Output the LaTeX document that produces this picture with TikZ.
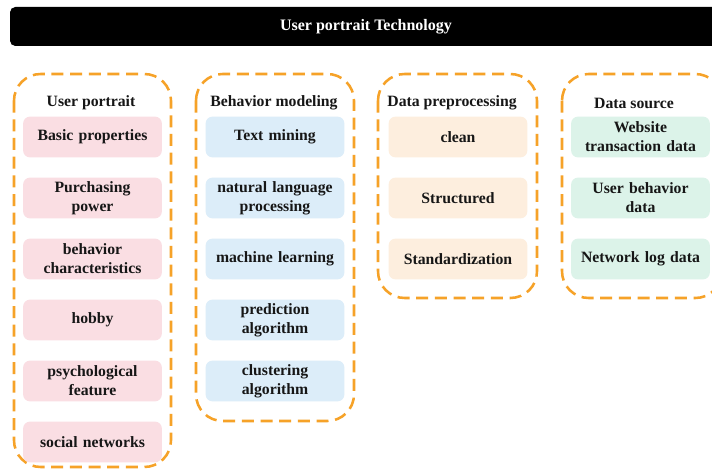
\documentclass[tikz,border=0pt]{standalone}
\usepackage{fontspec}
\setmainfont{Liberation Serif}
\usetikzlibrary{positioning}

\definecolor{dashorange}{RGB}{246,162,40}
\definecolor{pinkfill}{RGB}{250,222,227}
\definecolor{bluefill}{RGB}{220,237,249}
\definecolor{peachfill}{RGB}{253,238,222}
\definecolor{mintfill}{RGB}{220,243,233}
\definecolor{inkdark}{RGB}{22,22,22}

\tikzset{
  groupbox/.style={draw=dashorange, line width=1.9pt, dash pattern=on 9pt off 5pt, rounded corners=20pt},
  itembox/.style={rounded corners=5pt, minimum width=104pt, minimum height=30.5pt,
    text width=102pt, align=center, inner sep=0pt, text=inkdark,
    font=\fontsize{11.8}{14.3}\selectfont\bfseries},
  header/.style={text=inkdark, font=\fontsize{11.8}{14}\selectfont\bfseries},
}

\begin{document}
\begin{tikzpicture}[x=0.75pt, y=-0.75pt]
  \clip (0,0) rectangle (712,470);
  \fill[white] (0,0) rectangle (712,470);

  % title bar
  \fill[black, rounded corners=4pt] (10,7) rectangle (760,46);
  \node[text=white, font=\fontsize{12}{14}\selectfont\bfseries] (title) at (366,27) {User portrait Technology};

  % dashed group frames
  \draw[groupbox] (14,74) rectangle (171,467);
  \draw[groupbox] (196,74) rectangle (354,421);
  \draw[groupbox] (378,74) rectangle (537,298);
  \draw[groupbox] (562,74) rectangle (722,298);

  \node[header] (hportrait) at (91,103) {User portrait};
  \node[header] (hmodel) at (274,103) {Behavior modeling};
  \node[header] (hprep) at (452,103) {Data preprocessing};
  \node[header] (hsource) at (634,103) {Data source};

  % User portrait
  \foreach \txt [count=\i] in {Basic properties, Purchasing\\power, behavior\\characteristics,
      hobby, psychological\\feature, social networks} {
    \node[itembox, fill=pinkfill] (up\i) at (92.5, {137+61*(\i-1)}) {\txt};
  }

  % Behavior modeling
  \foreach \txt [count=\i] in {Text mining, natural language\\processing, machine learning,
      prediction\\algorithm, clustering\\algorithm} {
    \node[itembox, fill=bluefill] (bm\i) at (275, {137+61*(\i-1)}) {\txt};
  }

  % Data preprocessing
  \foreach \txt [count=\i] in {clean, Structured, Standardization} {
    \node[itembox, fill=peachfill] (dp\i) at (458, {137+61*(\i-1)}) {\txt};
  }

  % Data source
  \foreach \txt [count=\i] in {Website\\transaction data, User behavior\\data, Network log data} {
    \node[itembox, fill=mintfill] (ds\i) at (640.5, {137+61*(\i-1)}) {\txt};
  }
\end{tikzpicture}
\end{document}
